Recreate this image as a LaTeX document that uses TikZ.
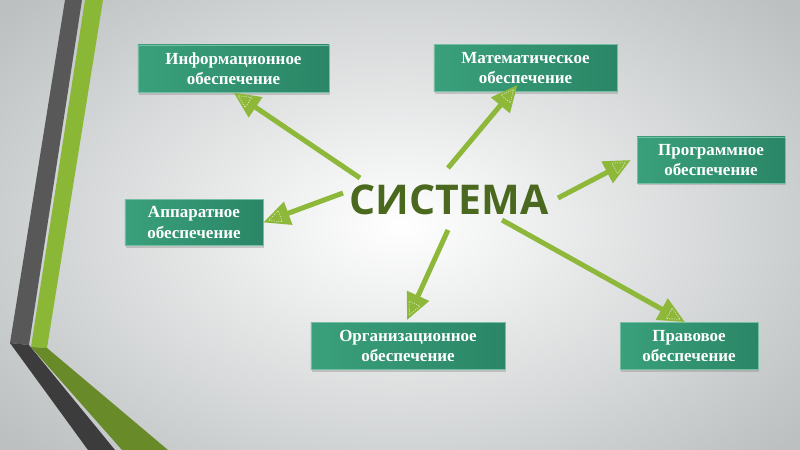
\documentclass[tikz,border=0pt]{standalone}
\usepackage{fontspec}
\setmainfont{Liberation Serif}
\newfontfamily\titlefont{Open Sans}
\usetikzlibrary{arrows.meta,shadows,decorations.markings}
\definecolor{boxgreenL}{RGB}{58,160,124}
\definecolor{boxgreenR}{RGB}{42,134,102}
\definecolor{arrowgreen}{RGB}{141,184,58}
\definecolor{titlegreen}{RGB}{74,104,30}
\definecolor{stripegray}{RGB}{88,88,88}
\definecolor{stripedark}{RGB}{60,60,60}
\definecolor{stripegreen}{RGB}{139,183,54}
\definecolor{stripegreenD}{RGB}{104,138,40}
\definecolor{bgouter}{RGB}{188,192,193}
\begin{document}
\begin{tikzpicture}[x=0.03cm,y=-0.03cm]
\tikzstyle{box}=[draw=boxgreenL!70!white,line width=0.4pt,left color=boxgreenL,right color=boxgreenR,
  text=white,font=\bfseries\fontsize{14.5}{17.5}\selectfont,align=center,inner sep=2pt,
  minimum height=1.42cm,drop shadow={shadow xshift=0.6pt,shadow yshift=-2pt,opacity=0.35}]
\tikzstyle{arrow}=[draw=arrowgreen,line width=0.15cm,-{Triangle[length=0.8cm,width=0.7cm]},
  postaction={decorate,decoration={markings,mark=at position 1 with
  {\draw[white,opacity=0.85,line width=0.4pt,dash pattern=on 1pt off 1pt] (-6,0) -- (-18,-6) -- (-18,6) -- cycle;}}}]
\useasboundingbox (0,0) rectangle (800,450);
% background and corner stripes
\shade[inner color=white,outer color=bgouter] (-120,-100) rectangle (920,550);
\fill[stripegray] (65,0) -- (82,0) -- (29,345) -- (10,343) -- cycle;
\fill[stripedark] (10,343) -- (29,345) -- (115,450) -- (88,450) -- cycle;
\fill[stripegreen] (85,0) -- (103,0) -- (47,348) -- (31,347) -- cycle;
\fill[stripegreenD] (31,347) -- (47,348) -- (168,450) -- (122,450) -- cycle;

\node[font=\titlefont\bfseries\fontsize{35}{35}\selectfont,text=titlegreen](title) at (449,200){СИСТЕМА};

\node[box,minimum width=5.73cm](info) at (233.5,68.5){Информационное\\обеспечение};
\node[box,minimum width=5.49cm](math) at (525.5,68){Математическое\\обеспечение};
\node[box,minimum width=4.44cm,minimum height=1.38cm](prog) at (711,160){Программное\\обеспечение};
\node[box,minimum width=4.14cm,minimum height=1.38cm](appar) at (194,222.5){Аппаратное\\обеспечение};
\node[box,minimum width=5.82cm](org) at (408,346){Организационное\\обеспечение};
\node[box,minimum width=4.14cm](legal) at (689,346){Правовое\\обеспечение};

% arrows out of the title
\coordinate (s1) at (360,178);
\coordinate (s2) at (448,168);
\coordinate (s3) at (558,198);
\coordinate (s4) at (343,193);
\coordinate (s5) at (448,230);
\coordinate (s6) at (502,220);
\draw[arrow] (s1) -- (info.south);
\draw[arrow] (s2) -- ([shift={(-8,-7)}]math.south);
\draw[arrow] (s3) -- ([shift={(-6,0)}]prog.west);
\draw[arrow] (s4) -- (appar.east);
\draw[arrow] (s5) -- ([shift={(-1,-2)}]org.north);
\draw[arrow] (s6) -- ([shift={(-4,0)}]legal.north);
\end{tikzpicture}
\end{document}
